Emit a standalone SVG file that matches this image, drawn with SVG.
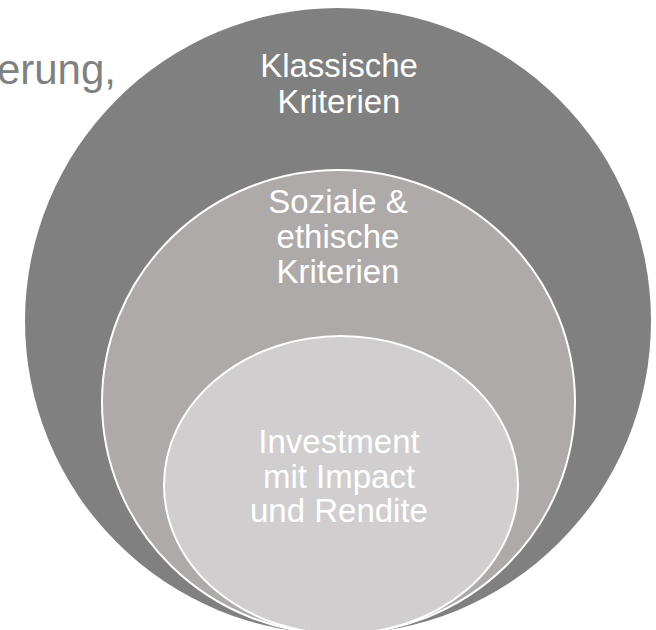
<svg xmlns="http://www.w3.org/2000/svg" width="656" height="630" viewBox="0 0 656 630">
  <style>
    .lbl { font-family: "Liberation Sans", Arial, sans-serif; font-size: 33px; fill: #ffffff; text-anchor: middle; }
    .ring { stroke: #ffffff; stroke-width: 2; }
  </style>
  <rect x="0" y="0" width="656" height="630" fill="#ffffff"/>
  <text x="116" y="84" font-family="Liberation Sans, Arial, sans-serif" font-size="42" fill="#808080" text-anchor="end">erung,</text>
  <g id="outer">
    <ellipse cx="338" cy="321" rx="313" ry="313" fill="#808080"/>
    <text class="lbl" x="339" y="77">Klassische</text>
    <text class="lbl" x="339" y="113">Kriterien</text>
  </g>
  <g id="middle">
    <ellipse class="ring" cx="338.5" cy="402" rx="236.5" ry="232" fill="#aeaaa9"/>
    <text class="lbl" x="338" y="213">Soziale &amp;</text>
    <text class="lbl" x="338" y="248">ethische</text>
    <text class="lbl" x="338" y="283">Kriterien</text>
  </g>
  <g id="inner">
    <ellipse class="ring" cx="341" cy="485" rx="177" ry="149" fill="#d0cecf"/>
    <text class="lbl" x="339" y="453">Investment</text>
    <text class="lbl" x="339" y="488">mit Impact</text>
    <text class="lbl" x="339" y="522">und Rendite</text>
  </g>
  <g id="connectors"></g>
</svg>
